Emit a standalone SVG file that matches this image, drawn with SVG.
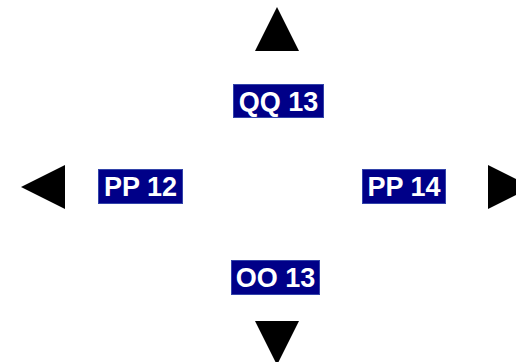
<svg xmlns="http://www.w3.org/2000/svg" width="516" height="362" viewBox="0 0 516 362">
<style>
.lbl rect{fill:#000088;stroke:#3344aa;stroke-width:1}
.lbl text{fill:#fff;font-family:"Liberation Sans",Arial,sans-serif;font-weight:bold;font-size:27px;text-anchor:middle}
.arr{fill:#000}
</style>
<rect width="516" height="362" fill="#fff"/>
<g id="connectors">
<polygon class="arr" points="277,7 299,51 255,51"/>
<polygon class="arr" points="21,187 65,165 65,209"/>
<polygon class="arr" points="532,187 488,165 488,209"/>
<polygon class="arr" points="277,365 255,321 299,321"/>
</g>
<g id="qq13" class="lbl"><rect x="233.500" y="84.500" width="90" height="33"/><text x="278.500" y="110.500">QQ 13</text></g>
<g id="pp12" class="lbl"><rect x="98.500" y="169.500" width="84" height="34"/><text x="140.500" y="196">PP 12</text></g>
<g id="pp14" class="lbl"><rect x="362.500" y="169.500" width="83" height="34"/><text x="404" y="196">PP 14</text></g>
<g id="oo13" class="lbl"><rect x="231.500" y="260.500" width="88" height="34"/><text x="275.500" y="287">OO 13</text></g>
</svg>
